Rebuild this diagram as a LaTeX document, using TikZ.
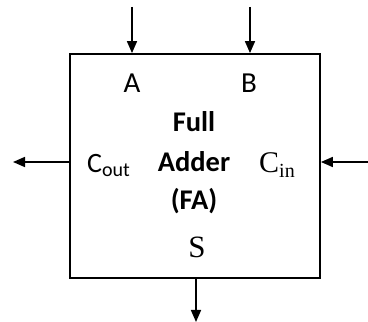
\documentclass[tikz,border=0pt]{standalone}
\usepackage{fontspec}
\setmainfont{Carlito}
\newfontfamily\tnr{Liberation Serif}
\usetikzlibrary{arrows.meta}
\begin{document}
\begin{tikzpicture}[x=1pt,y=1pt,
  wire/.style={line width=1.6pt,-{Triangle[length=12pt,width=10pt]}},
  lbl/.style={inner sep=0pt,anchor=base,font=\fontsize{29}{32}\selectfont}]
\useasboundingbox (0,0) rectangle (368,322);
\node[draw,line width=1.8pt,minimum width=250pt,minimum height=224pt,inner sep=0pt] (box) at (195,156) {};
\coordinate (ta) at (132,315);
\coordinate (tb) at (250,315);
\coordinate (lo) at (13,160);
\coordinate (ri) at (368,160);
\coordinate (bo) at (196,0);
\draw[wire] (ta) -- (ta |- box.north);
\draw[wire] (tb) -- (tb |- box.north);
\draw[wire] (lo -| box.west) -- (lo);
\draw[wire] (ri) -- (ri -| box.east);
\draw[wire] (bo |- box.south) -- (bo);
\node[lbl] (A) at (132,229) {A};
\node[lbl] (B) at (249,229) {B};
\node[lbl,anchor=base west,font=\fontsize{28}{32}\selectfont] (co) at (87,149) {C\raisebox{-4pt}{\fontsize{20}{20}\selectfont out}};
\node[lbl,anchor=base west,font=\tnr\fontsize{30}{32}\selectfont] (ci) at (259,149) {C\raisebox{-5pt}{\fontsize{20}{20}\selectfont in}};
\node[lbl,font=\bfseries\fontsize{28.5}{32}\selectfont] (f1) at (194,190) {Full};
\node[lbl,font=\bfseries\fontsize{28.5}{32}\selectfont] (f2) at (194,150) {Adder};
\node[lbl,font=\bfseries\fontsize{28.5}{32}\selectfont] (f3) at (194,112) {(FA)};
\node[lbl,font=\tnr\fontsize{31}{32}\selectfont] (S) at (197,64) {S};
\end{tikzpicture}
\end{document}
